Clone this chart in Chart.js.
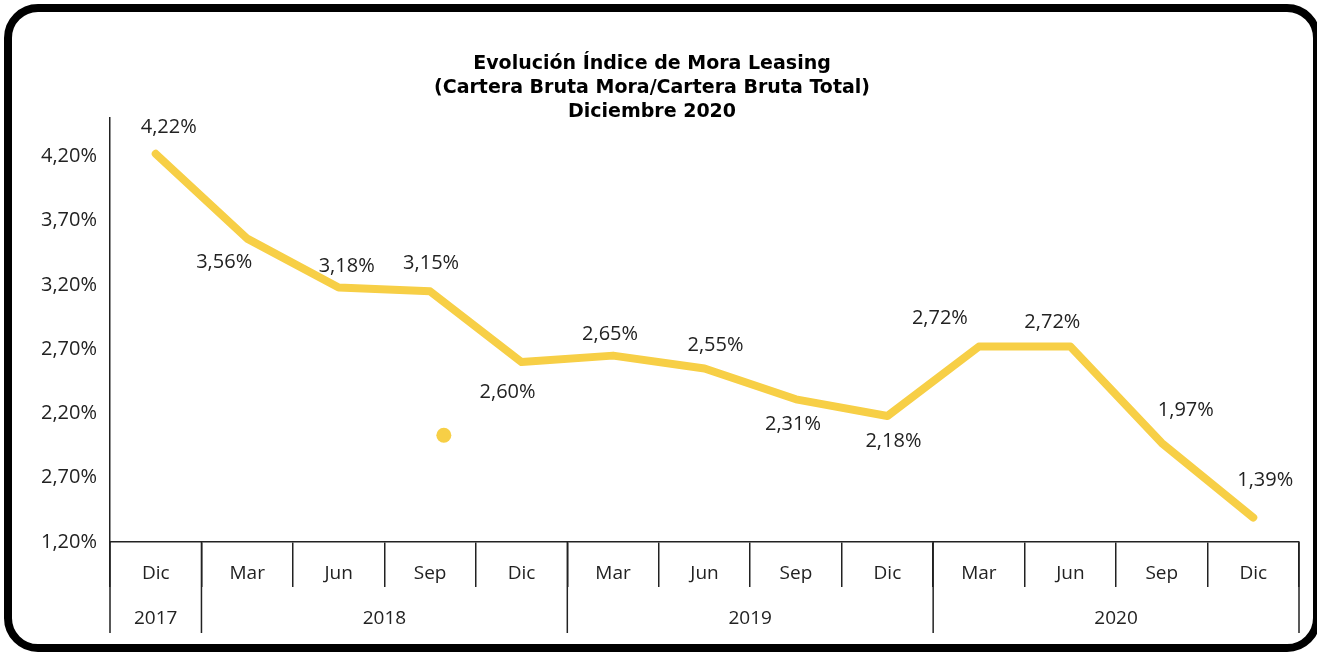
<!DOCTYPE html>
<html>
<head>
<meta charset="utf-8">
<script src="https://cdn.jsdelivr.net/npm/chart.js@4"></script>
<style>
    body { margin: 0; background: #fff; }
    #marco {
        position: absolute; left: 4px; top: 4px; width: 1317px; height: 648px;
        box-sizing: border-box; border: 8px solid #000; border-radius: 34px;
    }
    #lienzo { position: absolute; left: 0; top: 0; }
</style>
</head>
<body>
<div id="marco"></div>
<canvas id="lienzo" width="1317" height="652"></canvas>
<script>
// Datos del gráfico
const meses = ["Dic", "Mar", "Jun", "Sep", "Dic", "Mar", "Jun", "Sep", "Dic", "Mar", "Jun", "Sep", "Dic"];
const anios = ["2017", "2018", "2019", "2020"];
const trimestresPorAnio = [1, 4, 4, 4];
const indiceMora = [4.22, 3.56, 3.18, 3.15, 2.60, 2.65, 2.55, 2.31, 2.18, 2.72, 2.72, 1.97, 1.39];
const puntoSuelto = [{ x: 3.15, y: 2.03 }];
const ticksY = [1.2, 1.7, 2.2, 2.7, 3.2, 3.7, 4.2];
const etiquetasY = ["1,20%", "2,70%", "2,20%", "2,70%", "3,20%", "3,70%", "4,20%"];

const amarillo = "#f7cf46";
const fuente = "'Open Sans', 'Noto Sans', sans-serif";

// desplazamiento de cada etiqueta respecto a su punto
const despEtiquetas = [[13, -27], [-23, 24], [8, -21], [1, -28], [-14, 30], [-3, -21], [11, -23],
    [-3, 25], [6, 25], [-39, -28], [-18, -24], [24, -33], [12, -37]];

const etiquetasDatos = {
    id: "etiquetasDatos",
    afterDatasetsDraw(chart) {
        const ctx = chart.ctx;
        const meta = chart.getDatasetMeta(0);
        ctx.save();
        ctx.font = "20px " + fuente;
        ctx.fillStyle = "#222";
        ctx.textAlign = "center";
        ctx.textBaseline = "middle";
        meta.data.forEach((p, i) => {
            const txt = indiceMora[i].toFixed(2).replace(".", ",") + "%";
            ctx.fillText(txt, p.x + despEtiquetas[i][0], p.y + despEtiquetas[i][1]);
        });
        ctx.restore();
    }
};

const filaAnios = {
    id: "filaAnios",
    afterDraw(chart) {
        const ctx = chart.ctx;
        const x = chart.scales.x;
        const base = chart.chartArea.bottom;
        const medio = (x.getPixelForValue(1) - x.getPixelForValue(0)) / 2;
        ctx.save();
        ctx.strokeStyle = "#222";
        ctx.lineWidth = 1.5;
        ctx.font = "19px " + fuente;
        ctx.fillStyle = "#222";
        ctx.textAlign = "center";
        ctx.textBaseline = "middle";
        let inicio = 0;
        anios.forEach((anio, i) => {
            const fin = inicio + trimestresPorAnio[i] - 1;
            const izq = x.getPixelForValue(inicio) - medio;
            const der = x.getPixelForValue(fin) + medio;
            ctx.beginPath();
            if (i === 0) { ctx.moveTo(izq, base); ctx.lineTo(izq, base + 91); }
            ctx.moveTo(der, base); ctx.lineTo(der, base + 91);
            ctx.stroke();
            ctx.fillText(anio, (izq + der) / 2, base + 77);
            inicio = fin + 1;
        });
        ctx.restore();
    }
};

new Chart(document.getElementById("lienzo"), {
    type: "line",
    data: {
        labels: meses,
        datasets: [{
            data: indiceMora,
            borderColor: amarillo,
            borderWidth: 8,
            borderCapStyle: "round",
            borderJoinStyle: "round",
            pointRadius: 0,
            tension: 0
        }, {
            type: "scatter",
            data: puntoSuelto,
            xAxisID: "x2",
            backgroundColor: amarillo,
            borderWidth: 0,
            pointRadius: 7.5
        }]
    },
    options: {
        responsive: false,
        animation: false,
        layout: { padding: { left: 5, right: 18, top: 0, bottom: 0 } },
        plugins: {
            legend: { display: false },
            tooltip: { enabled: false },
            title: {
                display: true,
                text: ["Evolución Índice de Mora Leasing", "(Cartera Bruta Mora/Cartera Bruta Total)", "Diciembre 2020"],
                color: "#000",
                font: { family: "'DejaVu Sans', sans-serif", size: 19, weight: "bold", lineHeight: 1.26 },
                padding: { top: 52, bottom: -6 }
            }
        },
        scales: {
            x: {
                type: "category",
                offset: true,
                grid: { offset: true, drawOnChartArea: false, tickLength: 45, color: "#222", lineWidth: 1.5 },
                border: { color: "#222", width: 1.5 },
                ticks: { color: "#222", font: { family: fuente, size: 19 }, padding: -25, maxRotation: 0, autoSkip: false },
                afterFit: s => { s.height = 110; }
            },
            x2: {
                type: "linear",
                display: false,
                min: -0.5,
                max: meses.length - 0.5
            },
            y: {
                min: 1.2,
                max: 4.5,
                grid: { display: false, drawTicks: false },
                border: { color: "#222", width: 1.5 },
                afterBuildTicks: s => { s.ticks = ticksY.map(v => ({ value: v })); },
                ticks: {
                    color: "#222",
                    font: { family: fuente, size: 20 },
                    padding: 13,
                    callback: (v) => etiquetasY[ticksY.indexOf(v)]
                },
                afterFit: s => { s.width = 105; }
            }
        }
    },
    plugins: [etiquetasDatos, filaAnios]
});
</script>
</body>
</html>
